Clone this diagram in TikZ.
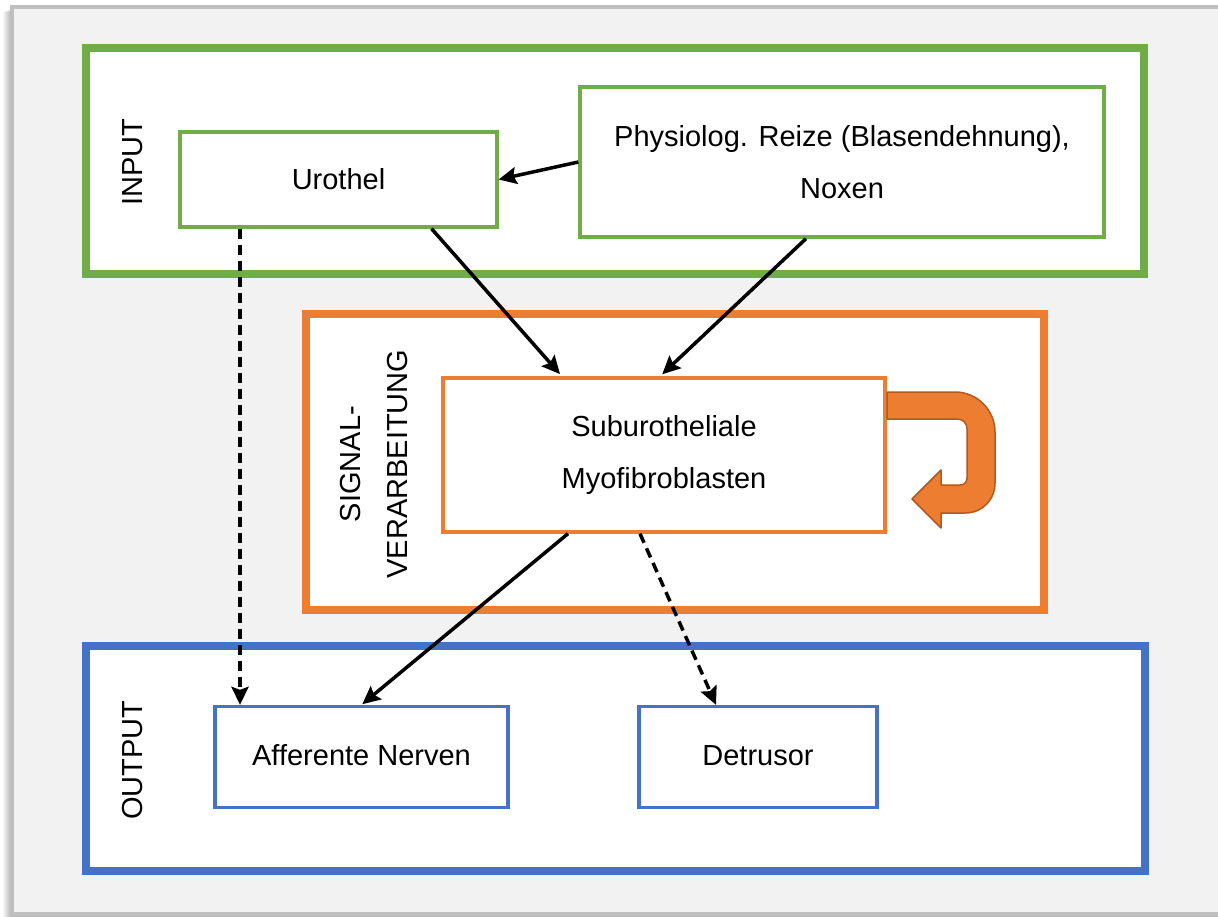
\documentclass[tikz,border=0pt]{standalone}
\usepackage{fontspec}
\setmainfont{Liberation Sans}
\usetikzlibrary{arrows.meta,calc}

\definecolor{panelgray}{HTML}{F2F2F2}
\definecolor{framegray}{HTML}{BFBFBF}
\definecolor{ingreen}{HTML}{70AD47}
\definecolor{sigorange}{HTML}{ED7D31}
\definecolor{sigorangedark}{HTML}{AE5A21}
\definecolor{outblue}{HTML}{4472C4}

\tikzset{
  group/.style={line width=8pt, fill=white},
  cell/.style={draw, line width=3.3pt, fill=white, align=center,
    font=\fontsize{29}{52}\selectfont, inner sep=0pt},
  sidelabel/.style={rotate=90, align=center,
    font=\fontsize{29}{47}\selectfont, inner sep=0pt},
  flow/.style={line width=3.5pt, -{Stealth[length=18pt,width=17pt,inset=3pt]}},
  dashflow/.style={flow, dash pattern=on 10pt off 6pt}
}

\begin{document}
\begin{tikzpicture}[x=1pt,y=-1pt]
\useasboundingbox (0,0) rectangle (1218,917);

% soft shadow to the left of the panel
\foreach \i in {1,...,9}
  \fill[black, opacity=0.035] (12-\i,8+\i*0.5) rectangle (1230,917);

% panel
\draw[framegray, line width=4pt, fill=panelgray] (12,7) rectangle (1228,914);

% group frames
\draw[group, draw=ingreen]   (86,48)  rectangle (1144,274);
\draw[group, draw=sigorange] (306,314) rectangle (1044,610);
\draw[group, draw=outblue]   (86,646) rectangle (1145,871);

% group labels
\node[sidelabel] (lin)  at (133,162) {INPUT};
\node[sidelabel] (lsig) at (374,464) {SIGNAL-\\VERARBEITUNG};
\node[sidelabel] (lout) at (133,760) {OUTPUT};

% cells
\node[cell, draw=ingreen, minimum width=317pt, minimum height=95pt]
  (uro) at (338.5,179.5) {Urothel};
\node[cell, draw=ingreen, minimum width=524pt, minimum height=150pt]
  (phys) at (842,162) {Physiolog. Reize (Blasendehnung),\\Noxen};
\node[cell, draw=sigorange, minimum width=442pt, minimum height=154pt]
  (sub) at (664,455) {Suburotheliale\\Myofibroblasten};
\node[cell, draw=outblue, minimum width=293pt, minimum height=101pt]
  (aff) at (361.5,757) {\raisebox{3pt}{Afferente Nerven}};
\node[cell, draw=outblue, minimum width=238pt, minimum height=101pt]
  (det) at (758,757) {\raisebox{3pt}{Detrusor}};

% feedback arrow beside the processing cell
\filldraw[fill=sigorange, draw=sigorangedark, line width=1.5pt, line join=round]
  (887,392) -- (955,392)
  .. controls (977,392) and (995,410) .. (995,432)
  -- (995,483)
  .. controls (995,500) and (982,513) .. (965,513)
  -- (941,513) -- (941,528) -- (912,499) -- (941,470) -- (941,485)
  -- (960,485)
  .. controls (964,485) and (967,482) .. (967,478)
  -- (967,429)
  .. controls (967,423) and (963,419) .. (957,419)
  -- (887,419) -- cycle;

% connectors
\draw[flow] (phys.west) -- (uro.east);
\draw[flow, shorten >=3pt] ([xshift=93pt]uro.south) -- ([xshift=-102pt]sub.north);
\draw[flow, shorten >=3pt] ([xshift=-36pt]phys.south) -- ([xshift=-4pt]sub.north);
\draw[dashflow] ([xshift=-98.5pt]uro.south) -- ([xshift=-121.5pt]aff.north);
\draw[flow, shorten >=1pt] ([xshift=-96pt]sub.south) -- (aff.north);
\draw[dashflow] ([xshift=-24pt]sub.south) -- ([xshift=-42pt]det.north);
\end{tikzpicture}
\end{document}
